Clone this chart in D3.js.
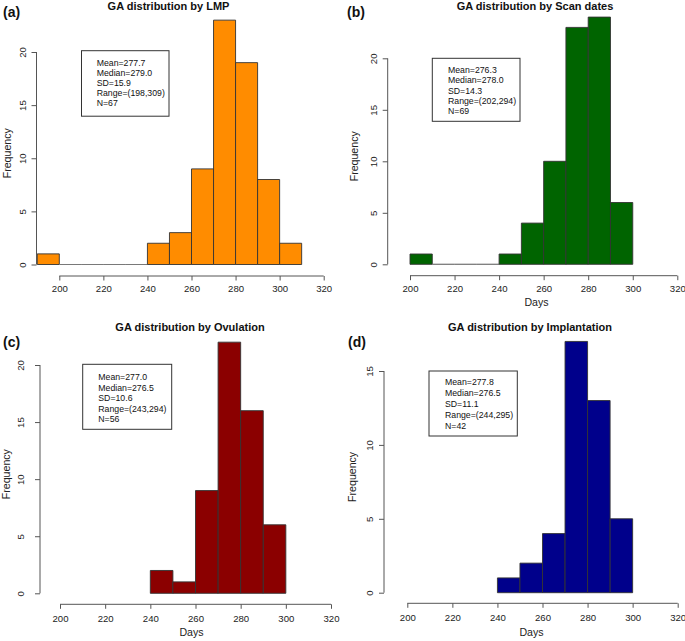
<!DOCTYPE html>
<html>
<head>
<meta charset="utf-8">
<script src="https://cdn.jsdelivr.net/npm/d3@7"></script>
<style>
  html, body { margin: 0; padding: 0; background: #fff; }
  svg { display: block; font-family: "Liberation Sans", Arial, sans-serif; }
</style>
</head>
<body>
<svg id="chart" width="685" height="641"></svg>
<script>
// ---------------- DATA ----------------
const xTicks = [200, 220, 240, 260, 280, 300, 320];

const lmpBreaks = [190, 200, 210, 220, 230, 240, 250, 260, 270, 280, 290, 300, 310];
const lmpCounts = [1, 0, 0, 0, 0, 2, 3, 9, 23, 19, 8, 2];
const lmpStats = ["Mean=277.7", "Median=279.0", "SD=15.9", "Range=(198,309)", "N=67"];
const lmpYTicks = [0, 5, 10, 15, 20];

const scanBreaks = [200, 210, 220, 230, 240, 250, 260, 270, 280, 290, 300];
const scanCounts = [1, 0, 0, 0, 1, 4, 10, 23, 24, 6];
const scanStats = ["Mean=276.3", "Median=278.0", "SD=14.3", "Range=(202,294)", "N=69"];
const scanYTicks = [0, 5, 10, 15, 20];

const ovuBreaks = [240, 250, 260, 270, 280, 290, 300];
const ovuCounts = [2, 1, 9, 22, 16, 6];
const ovuStats = ["Mean=277.0", "Median=276.5", "SD=10.6", "Range=(243,294)", "N=56"];
const ovuYTicks = [0, 5, 10, 15, 20];

const impBreaks = [240, 250, 260, 270, 280, 290, 300];
const impCounts = [1, 2, 4, 17, 13, 5];
const impStats = ["Mean=277.8", "Median=276.5", "SD=11.1", "Range=(244,295)", "N=42"];
const impYTicks = [0, 5, 10, 15];

const titles = ["GA distribution by LMP", "GA distribution by Scan dates",
                "GA distribution by Ovulation", "GA distribution by Implantation"];
const tags = ["(a)", "(b)", "(c)", "(d)"];
const colors = ["#FF8C00", "#006400", "#8B0000", "#00008B"];
const xLabels = [null, "Days", "Days", "Days"];

// ---------------- LAYOUT ----------------
const panels = [
  { breaks: lmpBreaks, counts: lmpCounts, stats: lmpStats, yTicks: lmpYTicks,
    x200: 59.3, x320: 323.7, y0: 264.5, yTopPx: 52, axisY: 276, yAxisX: 36.5,
    tickLabOff: 12.6, yLabX: 22.8, freqX: 7, cx: 168.5, titleY: 10, tagX: 3, tagY: 17,
    box: [81.5, 50.7, 87.5, 65.5], textX: 96.7, textY0: 66, textDy: 10, daysY: 0 },
  { breaks: scanBreaks, counts: scanCounts, stats: scanStats, yTicks: scanYTicks,
    x200: 410, x320: 677.3, y0: 264.3, yTopPx: 58.3, axisY: 275.7, yAxisX: 387.7,
    tickLabOff: 12.6, yLabX: 373.3, freqX: 354, cx: 535, titleY: 10, tagX: 347, tagY: 17,
    box: [432.3, 58.3, 87.7, 63], textX: 448, textY0: 72.8, textDy: 10.4, daysY: 302.5 },
  { breaks: ovuBreaks, counts: ovuCounts, stats: ovuStats, yTicks: ovuYTicks,
    x200: 60, x320: 331, y0: 593.3, yTopPx: 365, axisY: 604.3, yAxisX: 40,
    tickLabOff: 14, yLabX: 21, freqX: 6, cx: 190, titleY: 330.5, tagX: 3, tagY: 347,
    box: [82.7, 364.3, 89, 65], textX: 98.3, textY0: 380.3, textDy: 10.5, daysY: 632.5 },
  { breaks: impBreaks, counts: impCounts, stats: impStats, yTicks: impYTicks,
    x200: 407.3, x320: 677.7, y0: 592.7, yTopPx: 371, axisY: 603.3, yAxisX: 384,
    tickLabOff: 14.4, yLabX: 369.3, freqX: 352, cx: 530, titleY: 331, tagX: 348, tagY: 347,
    box: [429, 371, 88.3, 65], textX: 445, textY0: 384.8, textDy: 11.1, daysY: 632.5 }
];

const svg = d3.select("#chart");
const axisCol = "#555";

panels.forEach((p, i) => {
  const g = svg.append("g");
  const x = d3.scaleLinear().domain([200, 320]).range([p.x200, p.x320]);
  const yMax = p.yTicks[p.yTicks.length - 1];
  const y = d3.scaleLinear().domain([0, yMax]).range([p.y0, p.yTopPx]);

  // bars
  const bins = p.counts.map((c, k) => ({ x0: p.breaks[k], x1: p.breaks[k + 1], c }));
  g.selectAll("path.bar").data(bins).enter().append("path")
    .attr("class", "bar")
    .attr("d", d => {
      const pa = d3.path();
      pa.moveTo(x(d.x0), y(0));
      pa.lineTo(x(d.x0), y(d.c));
      pa.lineTo(x(d.x1), y(d.c));
      pa.lineTo(x(d.x1), y(0));
      pa.closePath();
      return pa.toString();
    })
    .attr("fill", colors[i])
    .attr("stroke", d => d.c === 0 ? "#777" : "#333")
    .attr("stroke-width", 0.9);

  // x axis
  const xa = g.append("g").attr("transform", `translate(0,${p.axisY})`)
    .call(d3.axisBottom(x).tickValues(xTicks).tickSize(4.5).tickFormat(d3.format("d")));
  xa.select(".domain").attr("stroke", axisCol).attr("d", `M${x(200)},0H${x(320)}`);
  xa.selectAll(".tick line").attr("stroke", axisCol);
  xa.selectAll(".tick text").attr("y", p.tickLabOff).attr("dy", "0.35em")
    .attr("fill", "#222").style("font-size", "9.6px").style("font-family", "Liberation Sans, Arial, sans-serif");

  // y axis
  const ya = g.append("g").attr("transform", `translate(${p.yAxisX},0)`)
    .call(d3.axisLeft(y).tickValues(p.yTicks).tickSize(5).tickFormat(d3.format("d")));
  ya.select(".domain").attr("stroke", axisCol).attr("d", `M0,${y(0)}V${y(yMax)}`);
  ya.selectAll(".tick line").attr("stroke", axisCol);
  ya.selectAll(".tick text")
    .attr("x", null).attr("dy", null)
    .attr("text-anchor", "middle")
    .attr("transform", `translate(${p.yLabX - p.yAxisX},0) rotate(-90)`)
    .attr("dy", "0.35em")
    .attr("fill", "#222").style("font-size", "9.6px").style("font-family", "Liberation Sans, Arial, sans-serif");

  // y label
  g.append("text")
    .attr("transform", `translate(${p.freqX},${(y(0) + y(yMax)) / 2 - 5}) rotate(-90)`)
    .attr("text-anchor", "middle").attr("dy", "0.35em")
    .style("font-size", "10.6px").attr("fill", "#222")
    .text("Frequency");

  // x label
  if (xLabels[i]) {
    g.append("text").attr("x", p.cx + 1.5).attr("y", p.daysY).attr("dy", "0.35em")
      .attr("text-anchor", "middle").style("font-size", "10.6px").attr("fill", "#222")
      .text(xLabels[i]);
  }

  // title
  g.append("text").attr("x", p.cx).attr("y", p.titleY)
    .attr("text-anchor", "middle").style("font-size", "11px").style("font-weight", "bold")
    .attr("fill", "#111").text(titles[i]);

  // tag
  g.append("text").attr("x", p.tagX).attr("y", p.tagY)
    .style("font-size", "14px").style("font-weight", "bold").attr("fill", "#111")
    .text(tags[i]);

  // stats box
  g.append("rect").attr("x", p.box[0]).attr("y", p.box[1])
    .attr("width", p.box[2]).attr("height", p.box[3])
    .attr("fill", "#fff").attr("stroke", "#333").attr("stroke-width", 1);
  const sg = g.append("g").attr("transform", `translate(${p.textX},0) scale(0.9,1)`);
  sg.selectAll("text.stat").data(p.stats).enter().append("text")
    .attr("class", "stat")
    .attr("x", 0).attr("y", (d, k) => p.textY0 + k * p.textDy)
    .style("font-size", "9.7px").attr("fill", "#111")
    .text(d => d);
});
</script>
</body>
</html>
